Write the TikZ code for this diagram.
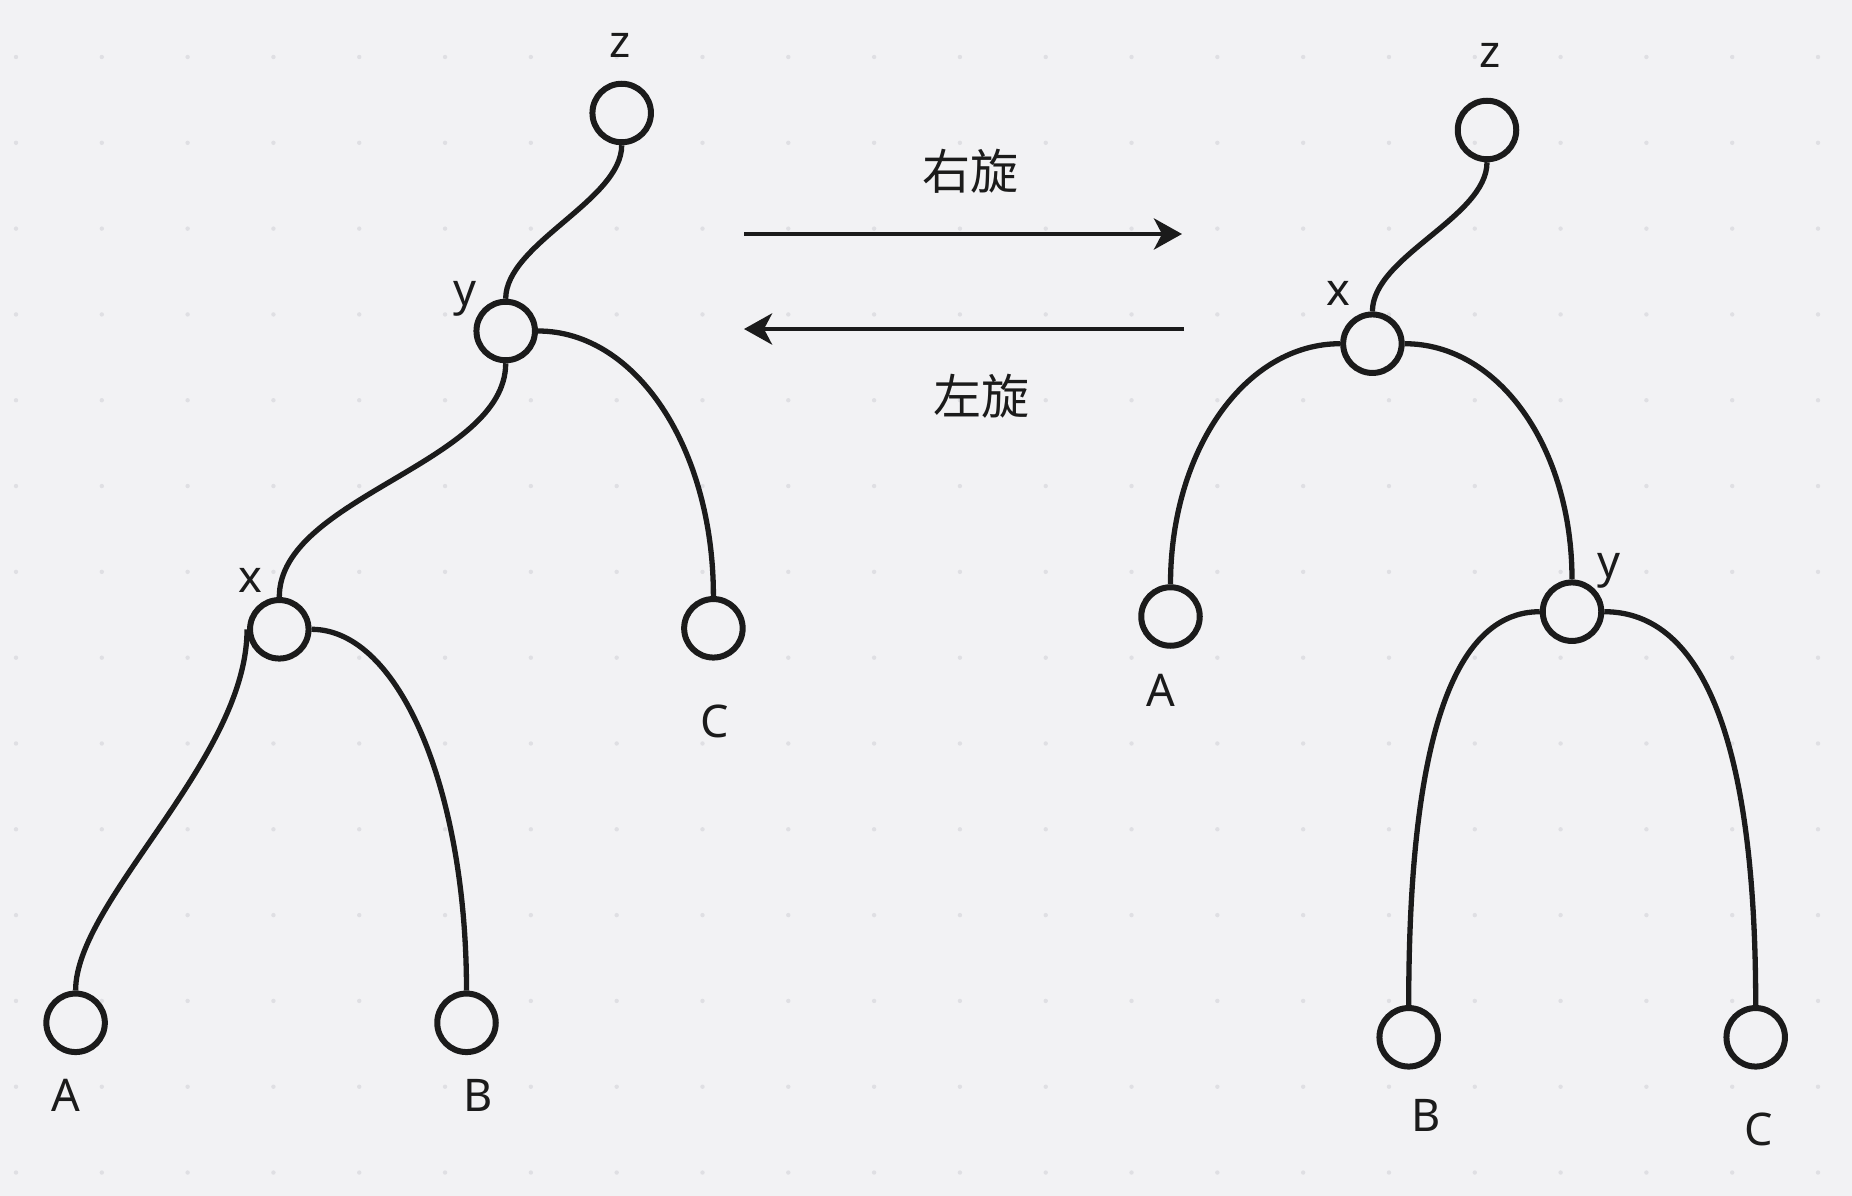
\documentclass[tikz,border=0pt]{standalone}
\usepackage{fontspec}
\setmainfont{Noto Sans}
\newfontfamily\cjk{Noto Sans CJK SC}
\usetikzlibrary{arrows.meta,calc}
\definecolor{bg}{HTML}{F2F2F4}
\definecolor{dotc}{HTML}{DFDFE3}
\definecolor{ink}{HTML}{1B1B1B}
\begin{document}
\begin{tikzpicture}[x=1pt,y=-1pt,
  tn/.style={circle,draw=ink,line width=6pt,minimum size=58.5pt,inner sep=0pt},
  lbl/.style={text=ink,font=\fontsize{45}{50}\selectfont,inner sep=0pt},
  cn/.style={text=ink,font=\cjk\fontsize{48}{52}\selectfont,inner sep=0pt},
  edge/.style={draw=ink,line width=5.3pt},
  arr/.style={draw=ink,line width=4.7pt,-{Stealth[length=28pt,width=31pt,inset=8pt]}}]
\fill[bg] (0,0) rectangle (1852,1196);
\useasboundingbox (0,0) rectangle (1852,1196);
\foreach \i in {0,...,21} \foreach \j in {0,...,13} \fill[dotc] (16+85.81*\i, 57+85.81*\j) circle (2.2pt);

% left tree
\node[tn] (lz) at (621.7,113) {};
\node[tn] (ly) at (505.7,331) {};
\node[tn] (lx) at (279.3,629.3) {};
\node[tn] (lA) at (75.6,1022.8) {};
\node[tn] (lB) at (466.5,1022.8) {};
\node[tn] (lC) at (713.4,628.3) {};

\draw[edge] (lz.south) .. controls ($(lz.south)+(0,55)$) and ($(ly.north)+(0,-55)$) .. (ly.north);
\draw[edge] (ly.south) .. controls ($(ly.south)+(0,100)$) and ($(lx.north)+(0,-100)$) .. (lx.north);
\draw[edge] (ly.east) .. controls ($(ly.east)+(98,0)$) and ($(lC.north)+(0,-148)$) .. (lC.north);
\draw[edge] (lx.west) .. controls ($(lx.west)+(0,130)$) and ($(lA.north)+(0,-90)$) .. (lA.north);
\draw[edge] (lx.east) .. controls ($(lx.east)+(88,0)$) and ($(lB.north)+(0,-200)$) .. (lB.north);

\node[lbl] (tlz) at (620,45.5) {z};
\node[lbl] (tly) at (464.5,298.5) {y};
\node[lbl] (tlx) at (250,580.5) {x};
\node[lbl] (tlA) at (66,1095) {A};
\node[lbl] (tlB) at (478,1095) {B};
\node[lbl] (tlC) at (714.6,721.6) {C};

% arrows
\coordinate (r1) at (744,234);
\coordinate (r2) at (1182,234);
\coordinate (l1) at (1184,329);
\coordinate (l2) at (744,329);
\draw[arr] (r1) -- (r2);
\draw[arr] (l1) -- (l2);
\node[cn] (tr) at (970,171.5) {右旋};
\node[cn] (tl) at (981.7,396.7) {左旋};

% right tree
\node[tn] (rz) at (1487,130) {};
\node[tn] (rx) at (1372.4,343.7) {};
\node[tn] (rA) at (1170.5,616.5) {};
\node[tn] (ry) at (1572,611.7) {};
\node[tn] (rB) at (1408.7,1037.3) {};
\node[tn] (rC) at (1755.7,1037.3) {};

\draw[edge] (rz.south) .. controls ($(rz.south)+(0,55)$) and ($(rx.north)+(0,-55)$) .. (rx.north);
\draw[edge] (rx.west) .. controls ($(rx.west)+(-95,0)$) and ($(rA.north)+(0,-134)$) .. (rA.north);
\draw[edge] (rx.east) .. controls ($(rx.east)+(94,0)$) and ($(ry.north)+(0,-132)$) .. (ry.north);
\draw[edge] (ry.west) .. controls ($(ry.west)+(-88,0)$) and ($(rB.north)+(0,-260)$) .. (rB.north);
\draw[edge] (ry.east) .. controls ($(ry.east)+(100,0)$) and ($(rC.north)+(0,-260)$) .. (rC.north);

\node[lbl] (trz) at (1490.5,55.5) {z};
\node[lbl] (trx) at (1338,293) {x};
\node[lbl] (try) at (1608.5,571) {y};
\node[lbl] (trA) at (1161,690) {A};
\node[lbl] (trB) at (1426,1115.5) {B};
\node[lbl] (trC) at (1758.5,1129.5) {C};
\end{tikzpicture}
\end{document}
